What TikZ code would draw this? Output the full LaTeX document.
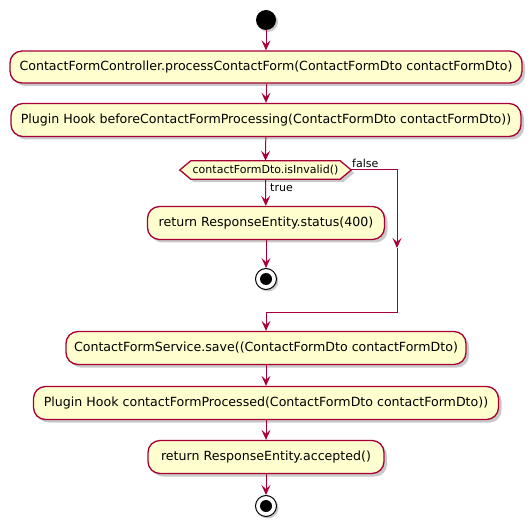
\documentclass[tikz,border=0pt]{standalone}
\usepackage{fontspec}
\setmainfont{DejaVu Sans}
\usetikzlibrary{arrows.meta,shadows}
\definecolor{pfill}{HTML}{FEFECE}
\definecolor{pline}{HTML}{A80036}
\begin{document}
\begin{tikzpicture}[x=1pt,y=-1pt,
  act/.style={draw=pline,line width=1.3pt,fill=pfill,rounded corners=12pt,
    inner sep=0pt,font=\fontsize{12.6}{14}\selectfont,
    drop shadow={shadow xshift=3pt,shadow yshift=-3pt,opacity=0.35,fill=black!60}},
  conn/.style={draw=pline,line width=1pt,-{Stealth[length=10pt,width=9pt,inset=4pt]}},
  plain/.style={draw=pline,line width=1pt},
  lbl/.style={font=\fontsize{11}{13}\selectfont,inner sep=0pt},
  startc/.style={circle,fill=black,minimum size=20pt,inner sep=0pt,
    drop shadow={shadow xshift=2pt,shadow yshift=-2pt,opacity=0.35,fill=black!60}},
  stopc/.style={circle,draw=black,line width=1pt,fill=white,minimum size=21pt,inner sep=0pt,
    drop shadow={shadow xshift=2pt,shadow yshift=-2pt,opacity=0.35,fill=black!60}}
]
\useasboundingbox (0,0) rectangle (532,526);
\fill[white] (0,0) rectangle (532,526);

\node[startc] (start) at (266,20) {};
\node[act,minimum width=512pt,minimum height=32pt] (b1) at (266,67)
  {ContactFormController.processContactForm(ContactFormDto contactFormDto)};
\node[act,minimum width=510pt,minimum height=33pt] (b2) at (266,120)
  {Plugin Hook beforeContactFormProcessing(ContactFormDto contactFormDto))};

\node[minimum width=171pt,minimum height=18pt,inner sep=0pt,font=\fontsize{11}{13}\selectfont] (dec) at (265.5,170) {};
\fill[black!60,opacity=0.35] ([shift={(3,3)}]dec.west) -- ([shift={(14,3)}]dec.north west) -- ([shift={(-8,3)}]dec.north east)
  -- ([shift={(3,3)}]dec.east) -- ([shift={(-8,3)}]dec.south east) -- ([shift={(14,3)}]dec.south west) -- cycle;
\draw[draw=pline,line width=1.3pt,fill=pfill] (dec.west) -- ([xshift=11]dec.north west) -- ([xshift=-11]dec.north east)
  -- (dec.east) -- ([xshift=-11]dec.south east) -- ([xshift=11]dec.south west) -- cycle;
\node[font=\fontsize{11}{13}\selectfont,inner sep=0pt] (dect) at (dec.center) {contactFormDto.isInvalid()};

\node[act,minimum width=237pt,minimum height=33pt] (b3) at (266,223)
  {return ResponseEntity.status(400)};
\node[stopc] (stop1) at (266,279) {};
\fill[black] (stop1) circle (6pt);

\node[act,minimum width=400pt,minimum height=33pt] (b4) at (266,348)
  {ContactFormService.save((ContactFormDto contactFormDto)};
\node[act,minimum width=465pt,minimum height=33pt] (b5) at (266,403)
  {Plugin Hook contactFormProcessed(ContactFormDto contactFormDto))};
\node[act,minimum width=236pt,minimum height=33pt] (b6) at (266,457)
  {return ResponseEntity.accepted()};
\node[stopc] (stop2) at (266,506) {};
\fill[black] (stop2) circle (6pt);

\node[lbl,anchor=west] (tlbl) at (270,188) {true};
\node[lbl,anchor=west] (flbl) at (352,163) {false};

\coordinate (fr) at (397,170);
\coordinate (fm) at (397,248);
\coordinate (fb) at (397,312);
\coordinate (mj) at (266,312);

\draw[conn] (start) -- (b1);
\draw[conn] (b1) -- (b2);
\draw[conn] (b2) -- (dec.north);
\draw[conn] (dec.south) -- (b3);
\draw[conn] (b3) -- (stop1);
\draw[conn] (dec.east) -- (fr) -- (fm);
\draw[plain] (fm) -- (fb) -- (mj);
\draw[conn] (mj) -- (b4);
\draw[conn] (b4) -- (b5);
\draw[conn] (b5) -- (b6);
\draw[conn] (b6) -- (stop2);
\end{tikzpicture}
\end{document}
